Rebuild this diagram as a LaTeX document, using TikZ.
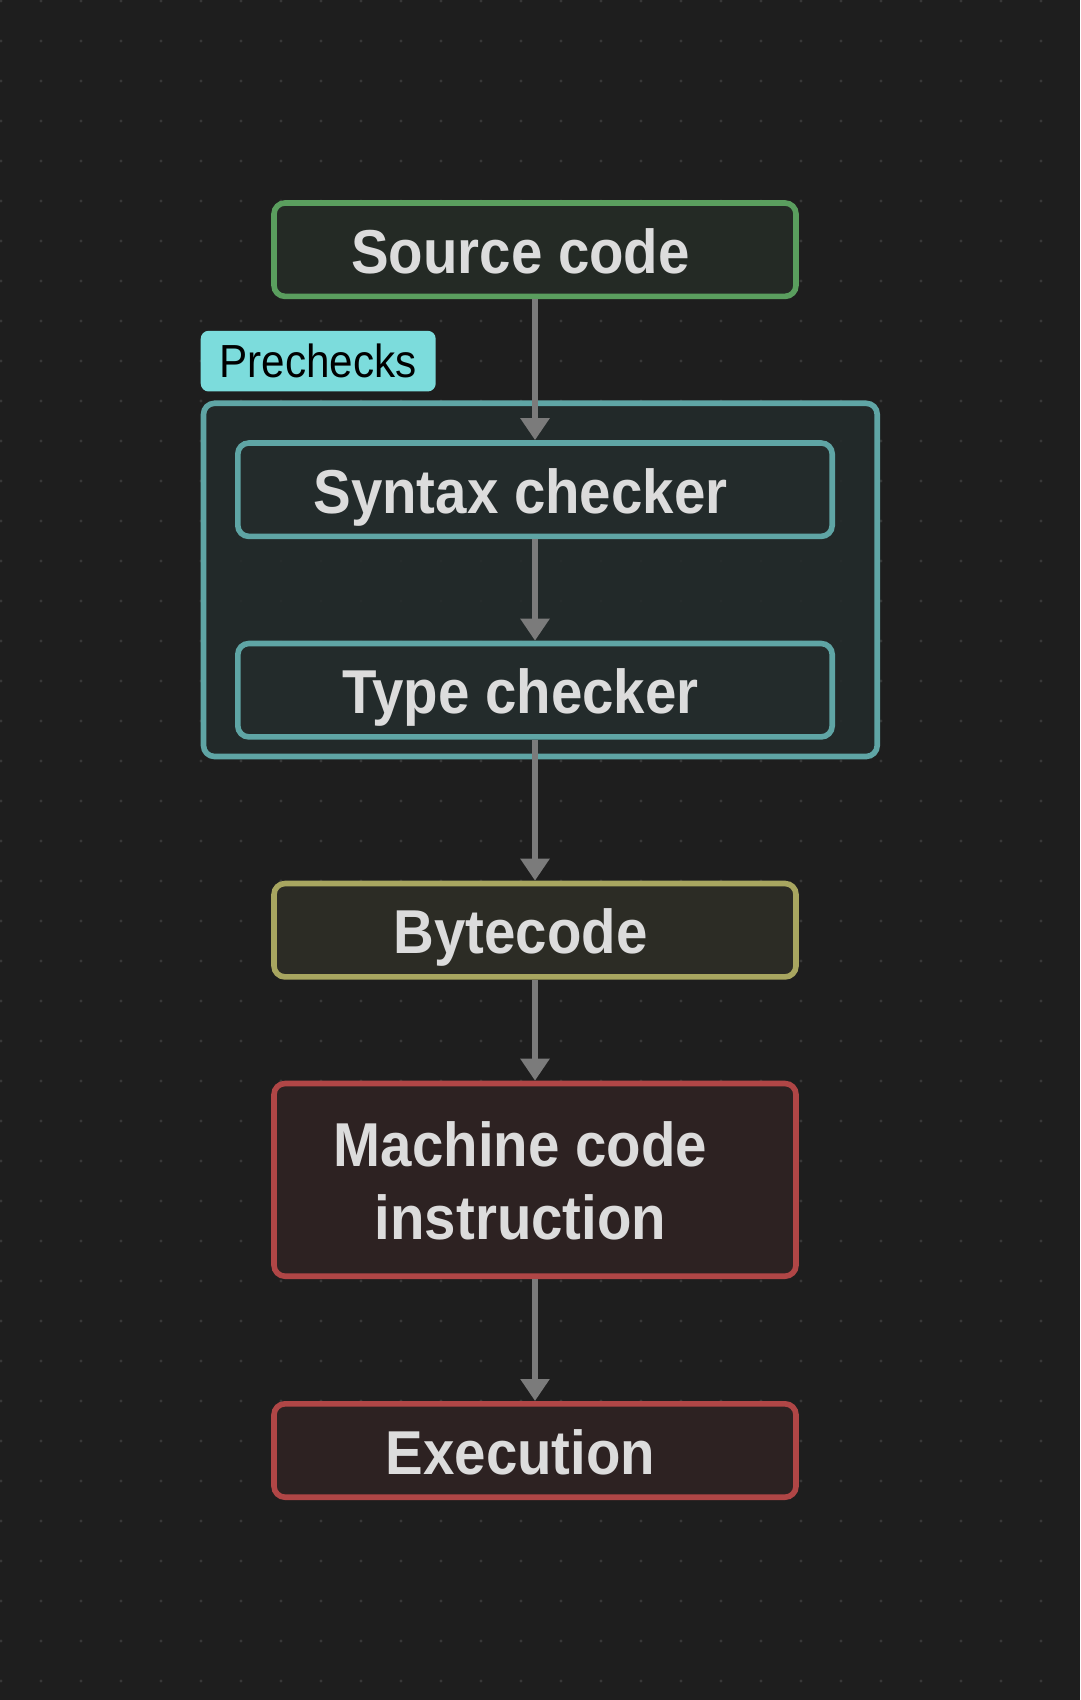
\documentclass[tikz,border=0pt]{standalone}
\usepackage{fontspec}
\setmainfont{Liberation Sans}[FakeStretch=0.91]
\usetikzlibrary{positioning, arrows.meta, backgrounds}
\definecolor{canvas}{HTML}{1E1E1E}
\definecolor{griddot}{HTML}{383838}
\definecolor{boxtext}{HTML}{DCDCDC}
\definecolor{arrowgray}{HTML}{7B7B7B}
\definecolor{srcline}{HTML}{5A9E5E}
\definecolor{srcfill}{HTML}{242A25}
\definecolor{preline}{HTML}{5FA5A5}
\definecolor{prefill}{HTML}{232B2B}
\definecolor{pretag}{HTML}{7CDCDC}
\definecolor{byteline}{HTML}{A8A660}
\definecolor{bytefill}{HTML}{2C2C25}
\definecolor{runline}{HTML}{B04646}
\definecolor{runfill}{HTML}{2D2222}
\tikzset{
stage/.style={draw, line width=2.8pt, rounded corners=5.5pt,
  minimum width=261pt, minimum height=46.7pt, text=boxtext,
  font=\fontsize{31}{36.5}\selectfont\bfseries, text height=23.6pt, text depth=0pt},
srcbox/.style={stage, draw=srcline, fill=srcfill},
checkbox/.style={stage, draw=preline, fill=prefill, minimum width=297.2pt},
bytebox/.style={stage, draw=byteline, fill=bytefill},
runbox/.style={stage, draw=runline, fill=runfill},
group/.style={draw=preline, fill=prefill, fill opacity=0.85, line width=2.8pt,
  rounded corners=5.5pt, minimum width=336.85pt, minimum height=176.6pt},
grouptag/.style={fill=pretag, rounded corners=4pt, outer sep=0pt,
  minimum width=117.5pt, minimum height=30.35pt, text=black,
  font=\fontsize{23.2}{28}\selectfont, text height=16.6pt, text depth=0pt},
flow/.style={draw=arrowgray, line width=2.8pt, -{Triangle[width=14pt,length=11pt]}},
}
\newcommand{\boxlabel}[1]{#1\kern14.5pt}

\begin{document}
\begin{tikzpicture}[x=0.5pt, y=-0.5pt]
    \useasboundingbox (0,0) rectangle (1080,1700);
    \begin{scope}[on background layer]
        \fill[canvas] (0,0) rectangle (1080,1700);
        \foreach \i in {0,...,26}
            \foreach \j in {0,...,42}
                \fill[griddot] (1+40*\i, 1+40*\j) circle[radius=0.8pt];
    \end{scope}

    \node[srcbox] (src) at (535,249.7) {\boxlabel{Source code}};
    \node[checkbox, below=70.5pt of src] (syn) {\boxlabel{Syntax checker}};
    \node[checkbox, below=50.75pt of syn] (typ) {\boxlabel{Type checker}};
    \node[bytebox, below=70.5pt of typ] (byte) {\boxlabel{Bytecode}};
    \node[runbox, minimum height=96.35pt, align=center, text height=60.1pt,
          below=50.5pt of byte] (mach) {\boxlabel{Machine code}\\\boxlabel{instruction}};
    \node[runbox, below=61pt of mach] (exec) {\boxlabel{Execution}};

    % prechecks group behind the two checkers
    \begin{scope}[on background layer]
        \node[group] (pre) at (540.35,579.9) {};
    \end{scope}
    \node[grouptag, above right=4.5pt and 0pt of pre.north west] (tag) {Prechecks};

    \draw[flow] (src) -- (syn);
    \draw[flow] (syn) -- (typ);
    \draw[flow] (typ) -- (byte);
    \draw[flow] (byte) -- (mach);
    \draw[flow] (mach) -- (exec);
\end{tikzpicture}
\end{document}
